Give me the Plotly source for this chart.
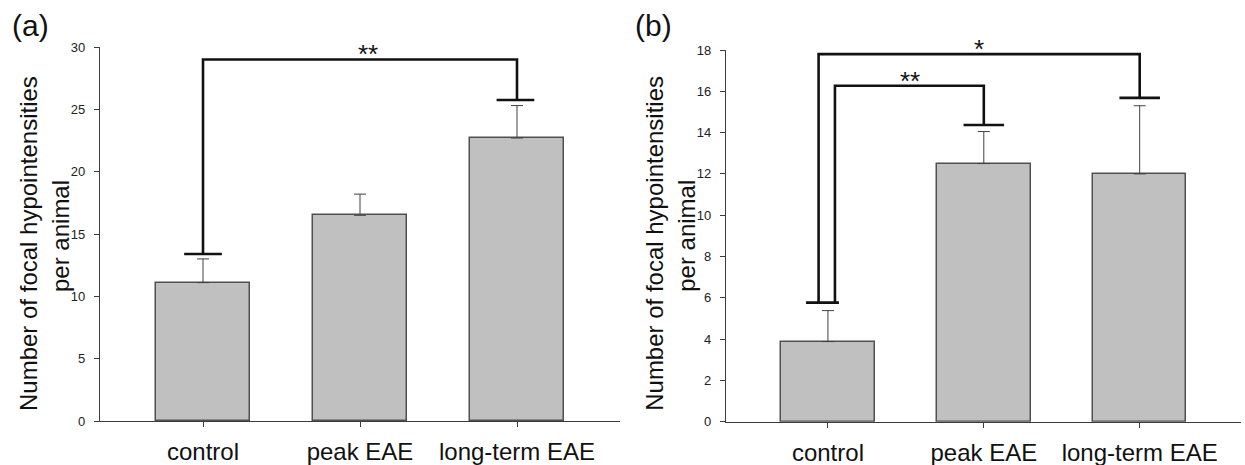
import plotly.graph_objects as go

# ---------------- data ----------------
categories = ["control", "peak EAE", "long-term EAE"]

a_means = [11.1, 16.5, 22.7]
a_sem = [1.9, 1.7, 2.6]

b_means = [3.88, 12.5, 12.0]
b_sem = [1.5, 1.55, 3.3]

y_title_1 = "Number of focal hypointensities"
y_title_2 = "per animal"

# significance brackets: (left category idx, right category idx, left foot, right foot, top, label)
a_brackets = [(0, 2, 13.4, 25.75, 29.0, "**")]
b_brackets = [(0, 2, 5.76, 15.68, 17.8, "*"),
              (0, 1, 5.76, 14.37, 16.27, "**")]

FONT = "Arial, 'Liberation Sans', sans-serif"
AX = "#3c3c3c"
W, H = 1245, 465

fig = go.Figure()

xpos = list(range(len(categories)))


def add_panel(means, sem, xa, ya):
    fig.add_trace(go.Bar(
        x=xpos, y=means, width=0.6,
        marker=dict(color="#c0c0c0", line=dict(color="#505050", width=1.5)),
        error_y=dict(type="data", symmetric=False, array=sem,
                     arrayminus=[0] * len(sem), color="#404040",
                     thickness=1, width=6),
        xaxis=xa, yaxis=ya, showlegend=False, hoverinfo="skip"))


add_panel(a_means, a_sem, "x", "y")
add_panel(b_means, b_sem, "x2", "y2")


def add_bracket(xa, ya, i, j, foot_l, foot_r, top, offset_l, cap_l, cap_r):
    xl = i + offset_l
    xr = j
    fig.add_trace(go.Scatter(
        x=[xl, xl, xr, xr], y=[foot_l, top, top, foot_r],
        mode="lines", line=dict(color="#111111", width=2.6),
        xaxis=xa, yaxis=ya, showlegend=False, hoverinfo="skip",
        cliponaxis=False))
    # caps
    fig.add_trace(go.Scatter(
        x=[i + cap_l[0], i + cap_l[1]], y=[foot_l, foot_l],
        mode="lines", line=dict(color="#111111", width=2.6),
        xaxis=xa, yaxis=ya, showlegend=False, hoverinfo="skip",
        cliponaxis=False))
    fig.add_trace(go.Scatter(
        x=[j + cap_r[0], j + cap_r[1]], y=[foot_r, foot_r],
        mode="lines", line=dict(color="#111111", width=2.6),
        xaxis=xa, yaxis=ya, showlegend=False, hoverinfo="skip",
        cliponaxis=False))


# panel a bracket
br = a_brackets[0]
add_bracket("x", "y", br[0], br[1], br[2], br[3], br[4], 0.0, (-0.12, 0.12), (-0.13, 0.11))
# panel b brackets
br = b_brackets[0]
add_bracket("x2", "y2", br[0], br[1], br[2], br[3], br[4], -0.06, (-0.14, 0.07), (-0.13, 0.13))
br = b_brackets[1]
add_bracket("x2", "y2", br[0], br[1], br[2], br[3], br[4], 0.045, (-0.14, 0.07), (-0.13, 0.13))

annotations = []
# stars
annotations.append(dict(x=1.05, y=a_brackets[0][4], xref="x", yref="y", text=a_brackets[0][5],
                        showarrow=False, yanchor="bottom", yshift=-12,
                        font=dict(family=FONT, size=26, color="#111111")))
annotations.append(dict(x=0.97, y=b_brackets[0][4], xref="x2", yref="y2", text=b_brackets[0][5],
                        showarrow=False, yanchor="bottom", yshift=-12,
                        font=dict(family=FONT, size=26, color="#111111")))
annotations.append(dict(x=0.525, y=b_brackets[1][4], xref="x2", yref="y2", text=b_brackets[1][5],
                        showarrow=False, yanchor="bottom", yshift=-12,
                        font=dict(family=FONT, size=26, color="#111111")))

# y titles (two lines each)
for px1, px2 in [(28.5, 60), (654.3, 685.8)]:
    annotations.append(dict(x=px1 / W, y=(H - 243.5) / H, xref="paper", yref="paper", text=y_title_1,
                            textangle=-90, showarrow=False, xanchor="center", yanchor="middle",
                            font=dict(family=FONT, size=24, color="#111111")))
    annotations.append(dict(x=px2 / W, y=(H - 236) / H, xref="paper", yref="paper", text=y_title_2,
                            textangle=-90, showarrow=False, xanchor="center", yanchor="middle",
                            font=dict(family=FONT, size=24, color="#111111")))

# panel labels
annotations.append(dict(x=30 / W, y=1 - 26 / H, xref="paper", yref="paper", text="(a)",
                        showarrow=False, xanchor="center", yanchor="middle",
                        font=dict(family=FONT, size=30, color="#111111")))
annotations.append(dict(x=653 / W, y=1 - 26 / H, xref="paper", yref="paper", text="(b)",
                        showarrow=False, xanchor="center", yanchor="middle",
                        font=dict(family=FONT, size=30, color="#111111")))

xcommon = dict(tickmode="array", tickvals=xpos, ticktext=categories,
               ticks="outside", ticklen=5, tickcolor=AX, tickwidth=1,
               showline=True, linecolor=AX, linewidth=1.3,
               showgrid=False, zeroline=False, automargin=False,
               tickfont=dict(family=FONT, size=24, color="#111111"),
               ticklabelstandoff=4)
ycommon = dict(ticks="outside", ticklen=5, tickcolor=AX, tickwidth=1,
               showline=True, linecolor=AX, linewidth=1.3,
               showgrid=False, zeroline=False, automargin=False,
               tickfont=dict(family=FONT, size=13, color="#222222"),
               ticklabelstandoff=6)

fig.update_layout(
    width=W, height=H,
    margin=dict(l=0, r=0, t=0, b=0, autoexpand=False),
    paper_bgcolor="white", plot_bgcolor="white",
    xaxis=dict(domain=[100 / W, 620 / W], range=[-0.656, 2.656], anchor="y", **xcommon),
    yaxis=dict(domain=[(H - 421) / H, (H - 47) / H], range=[0, 30], anchor="x",
               tickvals=[0, 5, 10, 15, 20, 25, 30], **ycommon),
    xaxis2=dict(domain=[726 / W, 1241 / W], range=[-0.654, 2.65], anchor="y2", **xcommon),
    yaxis2=dict(domain=[(H - 421.7) / H, (H - 50) / H], range=[0, 18], anchor="x2",
                tickvals=[0, 2, 4, 6, 8, 10, 12, 14, 16, 18], **ycommon),
    annotations=annotations,
    bargap=0,
)

fig.write_html("out.html")
